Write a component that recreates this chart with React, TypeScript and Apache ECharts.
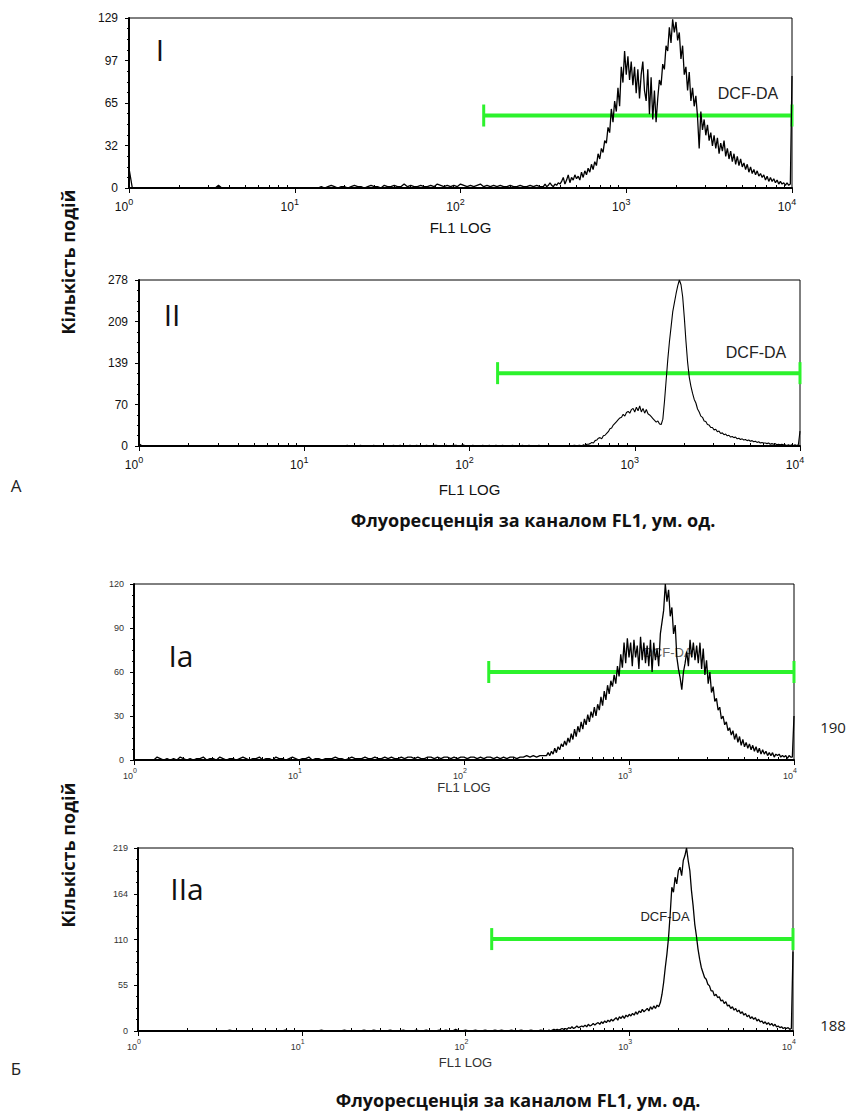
import React, { useEffect, useRef } from "react";
import * as echarts from "echarts";

// Channel positions in log10 units: coarse part 0.00..2.48 (step 0.02), fine part 2.50..4.00 (step 0.01)
const COARSE_START = 0;
const COARSE_STEP = 0.02;
const COARSE_COUNT = 125;
const FINE_START = 2.5;
const FINE_STEP = 0.01;
const FINE_COUNT = 151;

// Panel I counts
const I_COARSE = [
  15, 0, 0, 0, 0, 0, 0, 0, 0, 0,
  0, 0, 0, 0, 0, 0, 0, 0, 0, 0,
  0, 0, 0, 0, 0, 0, 0, 2, 0, 0,
  0, 0, 0, 0, 0, 0, 0, 0, 0, 0,
  0, 0, 0, 0, 0, 0, 0, 0, 0, 0,
  0, 0, 0, 0, 0, 0, 0, 0, 1, 0,
  1, 2, 1, 0, 1, 1, 0, 1, 2, 1,
  1, 0, 1, 2, 1, 1, 0, 2, 1, 1,
  2, 1, 1, 3, 1, 2, 1, 1, 2, 1,
  1, 2, 1, 3, 2, 1, 2, 1, 2, 1,
  3, 2, 1, 2, 1, 2, 3, 1, 2, 1,
  2, 1, 2, 1, 1, 2, 1, 1, 2, 1,
  1, 2, 1, 2, 1,
];
const I_FINE = [
  1, 3, 1, 2, 4, 2, 1, 3, 2, 4, 3,
  5, 8, 3, 6, 10, 4, 8, 6, 10, 7,
  9, 6, 12, 8, 13, 10, 15, 12, 18, 14,
  20, 17, 26, 22, 30, 27, 36, 34, 46, 42,
  60, 50, 66, 58, 76, 62, 92, 80, 104, 86,
  100, 82, 96, 78, 92, 72, 90, 68, 86, 96,
  74, 66, 90, 56, 84, 52, 74, 50, 68, 82,
  78, 94, 90, 108, 104, 122, 110, 128, 118, 126,
  112, 118, 98, 108, 86, 92, 74, 88, 66, 76,
  62, 70, 54, 30, 58, 44, 52, 40, 48, 36,
  42, 32, 40, 30, 38, 26, 34, 28, 36, 24,
  30, 22, 28, 20, 26, 18, 24, 17, 22, 16,
  19, 14, 18, 12, 16, 11, 14, 10, 13, 9,
  11, 8, 10, 6, 9, 5, 8, 5, 7, 4,
  6, 3, 5, 3, 4, 2, 4, 2, 3, 85,
];

// Panel II counts
const II_COARSE = [
  4, 0, 0, 0, 0, 0, 0, 0, 0, 0,
  0, 0, 0, 0, 0, 0, 0, 0, 0, 0,
  0, 0, 0, 0, 0, 0, 0, 0, 0, 0,
  0, 0, 0, 0, 0, 0, 0, 0, 0, 0,
  0, 0, 0, 0, 0, 0, 0, 0, 0, 0,
  0, 0, 0, 0, 0, 0, 0, 0, 0, 0,
  0, 0, 0, 1, 0, 0, 0, 1, 0, 0,
  0, 1, 0, 0, 1, 0, 0, 1, 0, 1,
  0, 0, 1, 0, 1, 0, 0, 1, 0, 1,
  1, 0, 0, 1, 0, 1, 1, 0, 2, 0,
  0, 1, 0, 0, 1, 0, 1, 0, 1, 0,
  1, 0, 0, 1, 0, 0, 1, 0, 1, 0,
  0, 1, 0, 0, 1,
];
const II_FINE = [
  0, 1, 0, 0, 1, 0, 1, 0, 0, 1, 0,
  1, 0, 1, 1, 0, 1, 1, 0, 2, 1,
  3, 3, 4, 6, 5, 9, 10, 13, 14, 12,
  17, 18, 21, 24, 29, 30, 35, 38, 41, 44,
  47, 48, 53, 50, 56, 58, 55, 61, 63, 57,
  65, 59, 67, 57, 63, 55, 61, 54, 52, 49,
  46, 43, 40, 42, 37, 36, 45, 75, 110, 145,
  175, 200, 225, 240, 255, 268, 278, 270, 250, 215,
  175, 140, 115, 100, 88, 78, 72, 62, 57, 50,
  48, 42, 41, 36, 35, 31, 31, 27, 28, 24,
  25, 21, 22, 19, 20, 17, 18, 15, 16, 14,
  15, 12, 13, 11, 12, 10, 11, 9, 10, 8,
  9, 7, 8, 6, 7, 5, 6, 5, 5, 4,
  5, 3, 4, 3, 4, 2, 3, 2, 3, 2,
  2, 1, 2, 1, 2, 1, 2, 1, 2, 25,
];

// Panel Ia counts
const IA_COARSE = [
  0, 0, 0, 0, 0, 0, 0, 2, 1, 0,
  1, 0, 1, 0, 2, 1, 0, 1, 0, 1,
  1, 2, 0, 1, 1, 0, 2, 1, 0, 1,
  1, 0, 1, 2, 1, 0, 1, 1, 2, 0,
  1, 1, 0, 2, 1, 1, 0, 1, 2, 1,
  0, 1, 1, 2, 0, 1, 1, 0, 1, 1,
  1, 2, 1, 1, 0, 1, 2, 1, 1, 1,
  2, 1, 1, 2, 1, 1, 2, 1, 2, 1,
  1, 2, 1, 2, 2, 1, 2, 1, 1, 2,
  2, 1, 2, 1, 2, 2, 1, 2, 1, 2,
  2, 1, 2, 2, 1, 2, 1, 2, 2, 1,
  2, 1, 2, 1, 2, 2, 1, 2, 2, 3,
  2, 3, 2, 3, 3,
];
const IA_FINE = [
  3, 5, 3, 6, 4, 8, 5, 9, 7, 11, 9,
  13, 10, 15, 12, 18, 14, 21, 16, 23, 19,
  26, 21, 28, 24, 31, 26, 33, 29, 36, 30,
  38, 34, 43, 37, 47, 41, 51, 45, 54, 50,
  58, 52, 64, 57, 72, 63, 80, 66, 83, 70,
  80, 64, 82, 70, 78, 62, 84, 68, 80, 66,
  78, 64, 82, 60, 80, 68, 76, 64, 86, 94,
  102, 120, 108, 116, 98, 104, 86, 92, 70, 62,
  56, 48, 60, 66, 74, 64, 82, 70, 80, 68,
  78, 66, 80, 62, 76, 58, 68, 52, 60, 46,
  50, 40, 42, 34, 36, 28, 30, 24, 26, 20,
  22, 17, 20, 14, 18, 12, 16, 10, 14, 9,
  12, 8, 11, 7, 10, 6, 9, 5, 8, 4,
  7, 4, 6, 3, 5, 3, 5, 2, 4, 3,
  4, 2, 3, 2, 3, 1, 3, 2, 2, 30,
];

// Panel IIa counts
const IIA_COARSE = [
  0, 0, 0, 0, 0, 0, 0, 0, 0, 0,
  0, 0, 0, 0, 0, 0, 0, 0, 0, 0,
  0, 0, 0, 0, 0, 0, 0, 0, 1, 0,
  0, 0, 0, 0, 0, 0, 0, 0, 0, 0,
  0, 0, 0, 0, 0, 1, 0, 0, 0, 0,
  0, 0, 0, 0, 0, 0, 1, 0, 0, 0,
  0, 0, 0, 1, 0, 0, 0, 0, 0, 1,
  0, 0, 1, 0, 0, 0, 0, 1, 0, 0,
  0, 1, 0, 0, 0, 1, 0, 0, 1, 0,
  0, 0, 1, 0, 1, 0, 0, 2, 0, 0,
  1, 0, 0, 1, 0, 0, 1, 0, 0, 1,
  0, 1, 0, 0, 1, 0, 0, 1, 0, 0,
  1, 0, 0, 1, 0,
];
const IIA_FINE = [
  0, 1, 0, 1, 2, 1, 2, 1, 2, 3, 2,
  3, 2, 4, 3, 5, 3, 4, 6, 4, 5,
  6, 5, 7, 5, 8, 6, 7, 9, 7, 9,
  10, 8, 11, 9, 12, 10, 13, 11, 14, 12,
  14, 16, 13, 17, 15, 18, 15, 19, 17, 20,
  18, 21, 19, 23, 20, 24, 22, 26, 23, 25,
  27, 24, 29, 26, 30, 27, 31, 29, 34, 44,
  58, 76, 92, 112, 140, 172, 166, 184, 176, 192,
  196, 186, 204, 210, 219, 204, 192, 168, 150, 128,
  114, 98, 86, 76, 70, 64, 62, 56, 54, 48,
  48, 42, 44, 40, 41, 36, 37, 33, 35, 30,
  31, 27, 29, 25, 27, 23, 25, 21, 23, 19,
  21, 17, 19, 15, 17, 14, 16, 12, 14, 11,
  12, 9, 11, 8, 10, 7, 9, 6, 8, 5,
  6, 4, 5, 3, 4, 3, 4, 2, 3, 95,
];

// Y axis maxima
const Y_MAX = [129, 278, 120, 219];
// Gate markers (DCF-DA): start (log10), end (log10), level
const GATES = [
  [2.14, 4.0, 55],
  [2.17, 4.0, 122],
  [2.15, 4.0, 60],
  [2.16, 4.0, 110],
];
const PANEL_LABELS = ["I", "II", "Ia", "IIa"];
const GATE_NAME = "DCF-DA";
const X_NAME = "FL1 LOG";
const X_TITLE = "Флуоресценція за каналом FL1, ум. од.";
const Y_TITLE = "Кількість подій";
const SIDE_VALUES = ["190", "188"];
const SECTION_LABELS = ["А", "Б"];

const GATE_COLOR = "#2cf22c";

function buildChannels(): number[] {
  const out: number[] = [];
  for (let i = 0; i < COARSE_COUNT; i++) out.push(+(COARSE_START + i * COARSE_STEP).toFixed(2));
  for (let i = 0; i < FINE_COUNT; i++) out.push(+(FINE_START + i * FINE_STEP).toFixed(2));
  return out;
}

export default function App() {
  const ref = useRef<HTMLDivElement>(null);
  useEffect(() => {
    if (!ref.current) return;
    const chart = echarts.init(ref.current, undefined, { renderer: "svg" });
    const channels = buildChannels();
    const series = [
      [...I_COARSE, ...I_FINE],
      [...II_COARSE, ...II_FINE],
      [...IA_COARSE, ...IA_FINE],
      [...IIA_COARSE, ...IIA_FINE],
    ];

    const grids = [
      { left: 129, top: 18, width: 663, height: 170 },
      { left: 139, top: 280, width: 661, height: 166 },
      { left: 134, top: 584, width: 660, height: 176 },
      { left: 138, top: 848, width: 655, height: 183 },
    ];
    const upper = [true, true, false, false];
    const nameGaps = [32, 36, 20, 25];
    const narrow = "'Liberation Sans Narrow', 'Liberation Sans', Arial, sans-serif";
    const sans = "'Liberation Sans', Arial, sans-serif";
    const ui = "'Open Sans', 'Noto Sans', sans-serif";

    const minorTicks: number[] = [];
    for (let d = 0; d < 4; d++) {
      for (let k = 2; k <= 9; k++) minorTicks.push(d + Math.log10(k));
    }

    const xAxis: any[] = [];
    const yAxis: any[] = [];
    grids.forEach((g, i) => {
      const up = upper[i];
      const fs = up ? 12 : 9;
      const ss = up ? 9 : 7;
      const col = up ? "#111" : "#333";
      xAxis.push({
        type: "value",
        gridIndex: i,
        min: 0,
        max: 4,
        interval: 1,
        splitLine: { show: false },
        axisLine: { show: true, onZero: false, lineStyle: { color: "#000", width: 2 } },
        axisTick: { show: true, inside: false, length: 5, lineStyle: { color: "#000", width: 1 } },
        axisLabel: {
          margin: up ? 9 : 7,
          padding: [0, up ? 10 : 8, 0, 0],
          formatter: (v: number) => `{b|10}{s|${v}}`,
          rich: {
            b: { fontSize: fs, fontFamily: sans, color: col, lineHeight: fs + 4, verticalAlign: "bottom" },
            s: { fontSize: ss, fontFamily: sans, color: col, lineHeight: fs + 4, verticalAlign: "top" },
          },
        },
        name: X_NAME,
        nameLocation: "middle",
        nameGap: nameGaps[i],
        nameTextStyle: { fontSize: up ? 15 : 13, fontFamily: narrow, color: col },
      });
      xAxis.push({
        type: "value",
        gridIndex: i,
        min: 0,
        max: 4,
        splitLine: { show: false },
        axisLine: { show: false },
        axisLabel: { show: false },
        axisTick: { show: true, inside: false, length: 3, customValues: minorTicks, lineStyle: { color: "#000", width: 1 } },
      });
      yAxis.push({
        type: "value",
        gridIndex: i,
        min: 0,
        max: Y_MAX[i],
        interval: Y_MAX[i] / 4,
        splitLine: { show: false },
        axisLine: { show: true, onZero: false, lineStyle: { color: "#000", width: 2 } },
        axisTick: { show: true, inside: false, length: 4, lineStyle: { color: "#000" } },
        minorTick: { show: true, splitNumber: 4, length: 2, lineStyle: { color: "#000" } },
        axisLabel: {
          margin: up ? 11 : 10,
          fontSize: up ? 12 : 9,
          fontFamily: up ? narrow : sans,
          color: col,
          formatter: (v: number) => String(Math.round(v)),
        },
      });
    });

    const seriesOpts: any[] = [];
    series.forEach((vals, i) => {
      seriesOpts.push({
        type: "custom",
        xAxisIndex: i * 2,
        yAxisIndex: i,
        z: 1,
        clip: false,
        encode: { x: [0, 1], y: 2 },
        data: [GATES[i]],
        renderItem: (params: any, api: any) => {
          const yv = api.value(2);
          const p0 = api.coord([api.value(0), yv]);
          const p1 = api.coord([api.value(1), yv]);
          const h = 11;
          return {
            type: "group",
            children: [
              { type: "line", shape: { x1: p0[0], y1: p0[1], x2: p1[0], y2: p1[1] }, style: { stroke: GATE_COLOR, lineWidth: 4 } },
              { type: "line", shape: { x1: p0[0], y1: p0[1] - h, x2: p0[0], y2: p0[1] + h }, style: { stroke: GATE_COLOR, lineWidth: 3 } },
              { type: "line", shape: { x1: p1[0], y1: p1[1] - h, x2: p1[0], y2: p1[1] + h }, style: { stroke: GATE_COLOR, lineWidth: 3 } },
            ],
          };
        },
      });
      seriesOpts.push({
        type: "line",
        xAxisIndex: i * 2,
        yAxisIndex: i,
        z: 3,
        showSymbol: false,
        symbol: "none",
        lineStyle: { color: "#000", width: i === 1 ? 1.1 : 1.3 },
        data: channels.map((x, k) => [x, vals[k]]),
      });
    });

    const txt = (x: number, y: number, text: string, fontSize: number, fontFamily: string, fill: string, extra: any = {}, z = 5) => ({
      type: "text",
      x,
      y,
      z,
      ...extra,
      style: { text, fontSize, fontFamily, fill, align: "center", verticalAlign: "middle", ...(extra.style || {}) },
    });

    const graphic: any[] = [
      txt(160, 49, PANEL_LABELS[0], 30, ui, "#111"),
      txt(172, 314, PANEL_LABELS[1], 30, ui, "#111"),
      txt(181, 655, PANEL_LABELS[2], 30, ui, "#111"),
      txt(187, 888, PANEL_LABELS[3], 30, ui, "#111"),
      txt(748, 93, GATE_NAME, 16, sans, "#222", {}, 0),
      txt(756, 352, GATE_NAME, 16, sans, "#222", {}, 0),
      txt(668, 652, GATE_NAME, 13, sans, "#666", {}, 0),
      txt(665, 916, GATE_NAME, 13, sans, "#222", {}, 0),
      txt(833, 727, SIDE_VALUES[0], 15, ui, "#222"),
      txt(833, 1025, SIDE_VALUES[1], 15, ui, "#222"),
      txt(16, 485, SECTION_LABELS[0], 17, ui, "#222"),
      txt(16, 1068, SECTION_LABELS[1], 17, ui, "#222"),
      txt(533, 520, X_TITLE, 18, ui, "#111", { style: { fontWeight: "bold" } }),
      txt(518, 1100, X_TITLE, 18, ui, "#111", { style: { fontWeight: "bold" } }),
      txt(68, 262, Y_TITLE, 18, ui, "#111", { rotation: Math.PI / 2, style: { fontWeight: "bold" } }),
      txt(68, 855, Y_TITLE, 18, ui, "#111", { rotation: Math.PI / 2, style: { fontWeight: "bold" } }),
    ];

    chart.setOption({
      animation: false,
      backgroundColor: "#fff",
      grid: grids.map((g) => ({ ...g, show: true, borderColor: "#000", borderWidth: 1, backgroundColor: "transparent" })),
      xAxis,
      yAxis,
      series: seriesOpts,
      graphic,
    });
    return () => chart.dispose();
  }, []);
  return <div ref={ref} style={{ position: "absolute", left: 0, top: 0, width: 850, height: 1114 }} />;
}
